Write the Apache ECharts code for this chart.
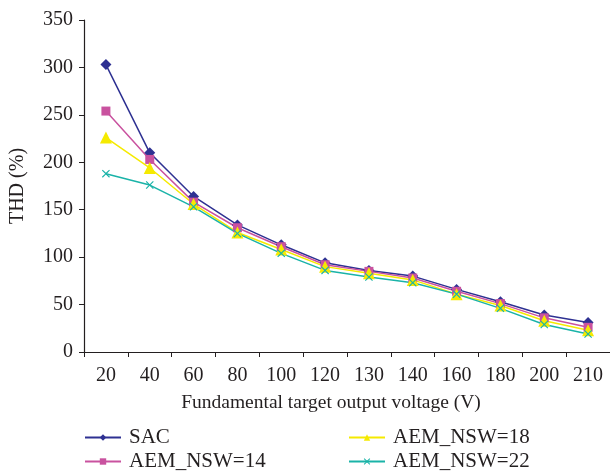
<!DOCTYPE html>
<html>
<head>
<meta charset="utf-8">
<script src="https://cdn.jsdelivr.net/npm/echarts@6/dist/echarts.min.js"></script>
<style>
  html, body { margin: 0; padding: 0; background: #fff; }
  #chart { width: 610px; height: 472px; }
</style>
</head>
<body>
<div id="chart"></div>
<script>
  // x categories (V)
  const voltages = ['20', '40', '60', '80', '100', '120', '130', '140', '160', '180', '200', '210'];
  // THD (%) per method
  const sac     = [303, 210, 164, 134, 113, 94, 86, 80, 66, 53, 39, 31];
  const nsw14   = [254, 203, 158, 131, 111, 92, 85, 78, 64, 51, 36, 26];
  const nsw18   = [226, 194, 156, 126, 108, 90, 83, 76, 61, 49, 33, 23];
  const nsw22   = [188, 176, 153, 125, 104, 86, 79, 73, 61, 46, 29, 19];
  const yTicks  = { min: 0, max: 350, step: 50 };

  const serif = '"Liberation Serif", "DejaVu Serif", serif';
  const ink = '#231f20';
  const crossPath = 'path://M0,1L1,0L5,4L9,0L10,1L6,5L10,9L9,10L5,6L1,10L0,9L4,5Z';

  const myChart = echarts.init(document.getElementById('chart'));

  function line(name, data, color, symbol, size) {
    return {
      name: name,
      type: 'line',
      data: data,
      symbol: symbol,
      symbolSize: size,
      showSymbol: true,
      lineStyle: { color: color, width: 1.5 },
      itemStyle: { color: color },
      emphasis: { disabled: true },
      z: 2
    };
  }

  // one legend per entry so the 2x2 layout matches
  function legendAt(name, left, top) {
    return {
      left: left, top: top,
      itemWidth: 36, itemHeight: 8,
      itemGap: 0, padding: 0,
      textStyle: { color: ink, fontFamily: serif, fontSize: 21, padding: [0, 0, 0, 3] },
      data: [name]
    };
  }

  myChart.setOption({
    animation: false,
    grid: { left: 84, top: 20, width: 528, height: 332 },
    legend: [
      legendAt('SAC', 84, 427),
      legendAt('AEM_NSW=14', 84, 451),
      legendAt('AEM_NSW=18', 348, 427),
      legendAt('AEM_NSW=22', 348, 451)
    ],
    xAxis: {
      type: 'category',
      data: voltages,
      boundaryGap: true,
      name: 'Fundamental target output voltage (V)',
      nameLocation: 'middle',
      nameGap: 41,
      nameTextStyle: { color: ink, fontFamily: serif, fontSize: 19.5, padding: [0, 32, 0, 0] },
      axisLine: { lineStyle: { color: ink, width: 1.2 } },
      axisTick: { show: true, length: 5, lineStyle: { color: ink } },
      axisLabel: { color: ink, fontFamily: serif, fontSize: 20, margin: 14, interval: 0 },
      splitLine: { show: false }
    },
    yAxis: {
      type: 'value',
      min: yTicks.min,
      max: yTicks.max,
      interval: yTicks.step,
      name: 'THD (%)',
      nameLocation: 'middle',
      nameGap: 56,
      nameRotate: 90,
      nameTextStyle: { color: ink, fontFamily: serif, fontSize: 20 },
      axisLine: { show: true, lineStyle: { color: ink, width: 1.2 } },
      axisTick: { show: true, length: 5, lineStyle: { color: ink } },
      axisLabel: { color: ink, fontFamily: serif, fontSize: 20, margin: 11 },
      splitLine: { show: false }
    },
    series: [
      line('SAC', sac, '#2e3192', 'diamond', 11),
      line('AEM_NSW=14', nsw14, '#c9529f', 'rect', 9),
      line('AEM_NSW=18', nsw18, '#f5ea00', 'triangle', 12),
      line('AEM_NSW=22', nsw22, '#1ab3a8', crossPath, 8)
    ]
  });

  window.addEventListener('resize', () => {
    myChart && myChart.resize();
  });
</script>
</body>
</html>
